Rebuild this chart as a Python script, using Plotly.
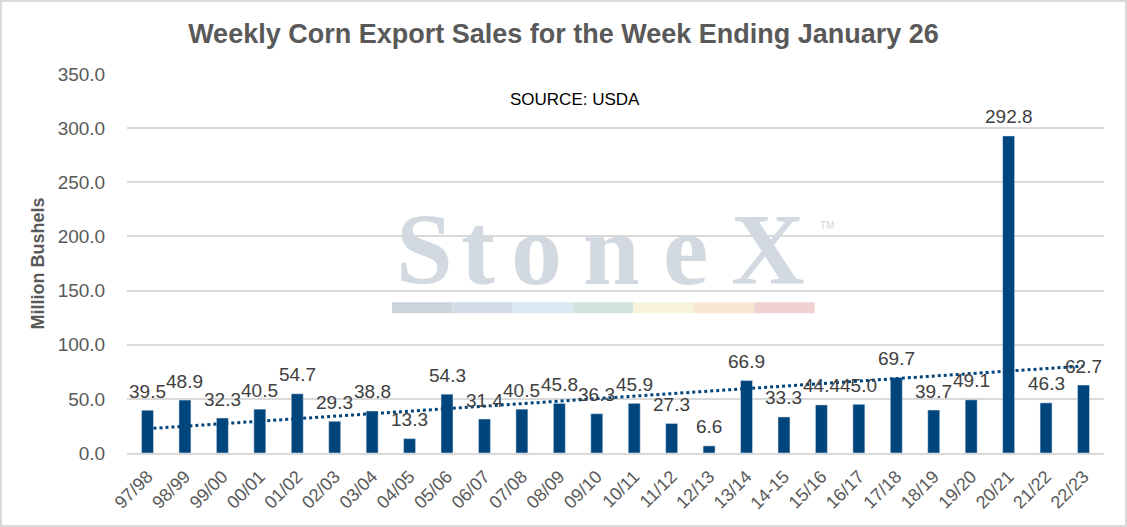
import numpy as np
import plotly.graph_objects as go

years = ["97/98", "98/99", "99/00", "00/01", "01/02", "02/03", "03/04", "04/05",
         "05/06", "06/07", "07/08", "08/09", "09/10", "10/11", "11/12", "12/13",
         "13/14", "14-15", "15/16", "16/17", "17/18", "18/19", "19/20", "20/21",
         "21/22", "22/23"]
sales = [39.5, 48.9, 32.3, 40.5, 54.7, 29.3, 38.8, 13.3, 54.3, 31.4, 40.5, 45.8,
         36.3, 45.9, 27.3, 6.6, 66.9, 33.3, 44.4, 45.0, 69.7, 39.7, 49.1, 292.8,
         46.3, 62.7]
y_ticks = [0, 50, 100, 150, 200, 250, 300, 350]
stripe_colors = ["#cbd3dc", "#d1dce6", "#dde9f2", "#d3e3dc", "#f8f4dc", "#f8e6d0", "#f0d2d2"]
logo_letters = ["S", "t", "o", "n", "e", "X"]
logo_pos = [0.304, 0.359, 0.419, 0.496, 0.572, 0.656]

# linear trendline like excel
idx = np.arange(1, len(sales) + 1)
slope, icpt = np.polyfit(idx, sales, 1)
trend = slope * idx + icpt

fig = go.Figure()
fig.add_trace(go.Bar(x=years, y=sales, marker_color="#00457c", width=0.32))
fig.add_trace(go.Scatter(x=years, y=trend, mode="lines",
                         line=dict(color="#00457c", width=3, dash="dot")))

# data labels
for yr, v in zip(years, sales):
    fig.add_annotation(x=yr, y=v, text=f"{v:.1f}", showarrow=False, yanchor="middle",
                       yshift=19, font=dict(size=19, color="#404040"))

# watermark
for ch, px_ in zip(logo_letters, logo_pos):
    fig.add_annotation(text=ch, xref="paper", yref="paper", x=px_, y=0.536,
                       xanchor="center", yanchor="middle", showarrow=False,
                       font=dict(family="Liberation Serif", size=102, weight="bold",
                                 color="#d3d9e0"))
fig.add_annotation(text="TM", xref="paper", yref="paper", x=0.716, y=0.599,
                   xanchor="center", yanchor="middle", showarrow=False,
                   font=dict(family="Liberation Sans", size=10, color="#d0d7df"))
x0 = 0.2712
w = 0.0618
for i, c in enumerate(stripe_colors):
    fig.add_shape(type="rect", xref="paper", yref="paper", x0=x0 + i * w, x1=x0 + (i + 1) * w,
                  y0=0.369, y1=0.398, fillcolor=c, line_width=0, layer="below")

fig.add_annotation(text="SOURCE: USDA", xref="paper", yref="paper", x=0.4586, y=0.934,
                   xanchor="center", yanchor="middle", showarrow=False,
                   font=dict(size=17, color="#000000"))

fig.update_layout(
    title=dict(text="<b>Weekly Corn Export Sales for the Week Ending January 26</b>",
               x=0.5, xanchor="center", y=0.937, yanchor="middle",
               font=dict(size=27, color="#595959")),
    width=1127, height=527,
    margin=dict(l=127, r=23, t=74, b=74),
    paper_bgcolor="white", plot_bgcolor="white",
    showlegend=False,
    font=dict(family="Liberation Sans, Arial", color="#595959"),
)
fig.update_xaxes(tickangle=-45, tickfont=dict(size=18, color="#595959"), showgrid=False,
                 showline=True, linecolor="#d9d9d9", linewidth=2, ticks="outside",
                 ticklen=4, tickcolor="white")
fig.update_yaxes(range=[0, 350], tickvals=y_ticks, tickformat=".1f",
                 tickfont=dict(size=19, color="#595959"), gridcolor="#d9d9d9", gridwidth=2,
                 zeroline=False, ticks="outside", ticklen=17, tickcolor="white",
                 title=dict(text="<b>Million Bushels</b>", font=dict(size=18, color="#595959"),
                            standoff=8))
fig.add_shape(type="rect", xref="paper", yref="paper", x0=-0.129, x1=1.0225, y0=-0.1926, y1=1.1926,
              line=dict(color="#d9d9d9", width=2))

fig.write_html("out.html", config={"displayModeBar": False},
               post_script="document.body.style.margin='0';")
